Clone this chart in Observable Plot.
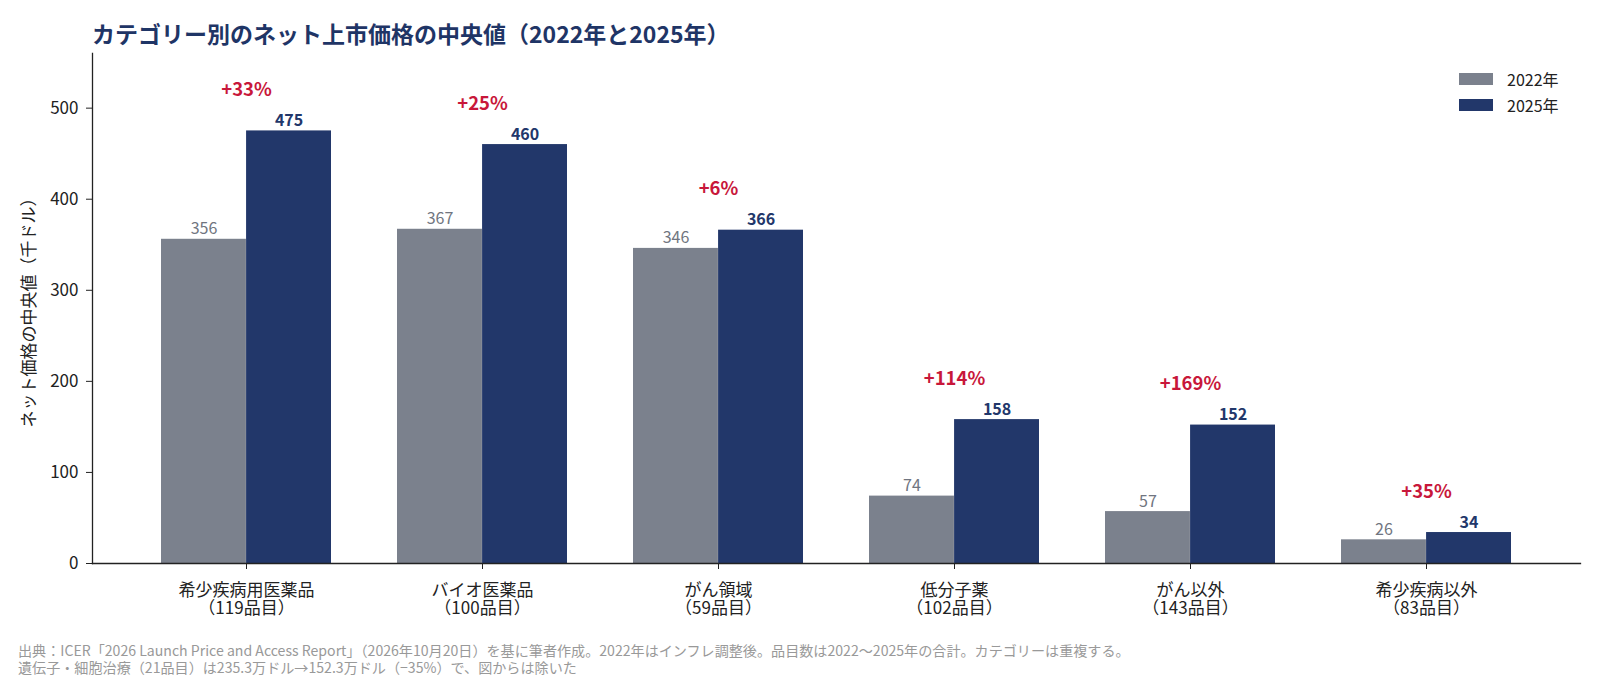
<!DOCTYPE html>
<html lang="ja">
<head>
<meta charset="utf-8">
<script src="https://cdn.jsdelivr.net/npm/d3@7"></script>
<script src="https://cdn.jsdelivr.net/npm/@observablehq/plot@0.6"></script>
<style>
  html, body { margin: 0; padding: 0; background: #fff; }
  body { font-family: "Noto Sans CJK JP", "Noto Sans", sans-serif; width: 1600px; height: 682px; overflow: hidden; }
  #wrap { position: relative; width: 1600px; }
  #title { height: 23px; padding: 21px 0 0 92px; line-height: 24px; font-size: 23px; font-weight: 700; color: #1f3566; white-space: nowrap; }
  #legend { position: absolute; left: 1459px; top: 66px; font-size: 16px; color: #222; }
  .item { display: flex; align-items: center; height: 26px; }
  .sw { width: 34px; height: 12px; margin-right: 14px; }
  #note { padding: 2px 0 0 18px; font-size: 14.1px; line-height: 17px; color: #999; white-space: nowrap; }
  svg { display: block; }
</style>
</head>
<body>
<div id="wrap">
  <div id="title"></div>
  <div id="chart"></div>
  <div id="legend"></div>
  <div id="note"></div>
</div>
<script>
// Median net launch price by category, in thousands of dollars
const categories = ["希少疾病用医薬品", "バイオ医薬品", "がん領域", "低分子薬", "がん以外", "希少疾病以外"];
const itemCounts = [119, 100, 59, 102, 143, 83];
const price2022 = [356, 367, 346, 74, 57, 26];
const price2025 = [475, 460, 366, 158, 152, 34];
const changeLabels = ["+33%", "+25%", "+6%", "+114%", "+169%", "+35%"];
const seriesNames = ["2022年", "2025年"];
const yTicks = [0, 100, 200, 300, 400, 500];

const titleText = "カテゴリー別のネット上市価格の中央値（2022年と2025年）";
const yLabel = "ネット価格の中央値（千ドル）";
const noteLines = [
  "出典：ICER「2026 Launch Price and Access Report」（2026年10月20日）を基に筆者作成。2022年はインフレ調整後。品目数は2022～2025年の合計。カテゴリーは重複する。",
  "遺伝子・細胞治療（21品目）は235.3万ドル→152.3万ドル（−35%）で、図からは除いた"
];

const colors = { "2022年": "#7b818d", "2025年": "#22376a" };
const grayText = "#707580";
const red = "#c8173a";

const rows = categories.map((c, i) => ({
  category: c,
  items: itemCounts[i],
  v2022: price2022[i],
  v2025: price2025[i],
  change: changeLabels[i]
}));

// layout
const width = 1600, height = 596;
const marginLeft = 92, marginRight = 20, marginTop = 9, marginBottom = 77;
const padInner = 0.28, padOuter = 0.288;
const step = (width - marginLeft - marginRight) / (categories.length - padInner + 2 * padOuter);
const half = step * (1 - padInner) / 2; // each year's bar takes half of the band

const tickLabel = c => `${c}\n（${itemCounts[categories.indexOf(c)]}品目）`;

const chart = Plot.plot({
  width, height, marginLeft, marginRight, marginTop, marginBottom,
  style: { fontFamily: "'Noto Sans CJK JP', 'Noto Sans', sans-serif", fontSize: "17px", color: "#222", background: "#fff" },
  x: { domain: categories, paddingInner: padInner, paddingOuter: padOuter, align: 0.5 },
  y: { domain: [0, 560] },
  marks: [
    Plot.barY(rows, { x: "category", y: "v2022", fill: colors["2022年"], insetRight: half }),
    Plot.barY(rows, { x: "category", y: "v2025", fill: colors["2025年"], insetLeft: half }),
    Plot.text(rows, { x: "category", y: "v2022", text: d => String(d.v2022), dx: -half / 2, dy: -5, lineAnchor: "bottom", fill: grayText, fontSize: 16 }),
    Plot.text(rows, { x: "category", y: "v2025", text: d => String(d.v2025), dx: half / 2, dy: -5, lineAnchor: "bottom", fill: colors["2025年"], fontSize: 16, fontWeight: "bold" }),
    Plot.text(rows, { x: "category", y: "v2025", text: "change", dy: -35, lineAnchor: "bottom", fill: red, fontSize: 18.5, fontWeight: "bold" }),
    Plot.axisX({ tickFormat: tickLabel, tickSize: 6, tickPadding: 13, fontSize: 17, lineHeight: 1.1, label: null, stroke: "#222" }),
    Plot.axisY({ ticks: yTicks, tickSize: 6, tickPadding: 8, fontSize: 17, label: yLabel, labelAnchor: "center", labelArrow: "none", labelOffset: 70, stroke: "#222" }),
    Plot.frame({ anchor: "left", stroke: "#222", strokeWidth: 1.3 }),
    Plot.frame({ anchor: "bottom", stroke: "#222", strokeWidth: 1.3 })
  ]
});

document.getElementById("title").textContent = titleText;
document.getElementById("chart").appendChild(chart);

const legend = document.getElementById("legend");
seriesNames.forEach(name => {
  const item = document.createElement("div");
  item.className = "item";
  const sw = document.createElement("span");
  sw.className = "sw";
  sw.style.background = colors[name];
  const label = document.createElement("span");
  label.textContent = name;
  item.appendChild(sw);
  item.appendChild(label);
  legend.appendChild(item);
});

const note = document.getElementById("note");
noteLines.forEach(line => {
  const div = document.createElement("div");
  div.textContent = line;
  note.appendChild(div);
});
</script>
</body>
</html>
